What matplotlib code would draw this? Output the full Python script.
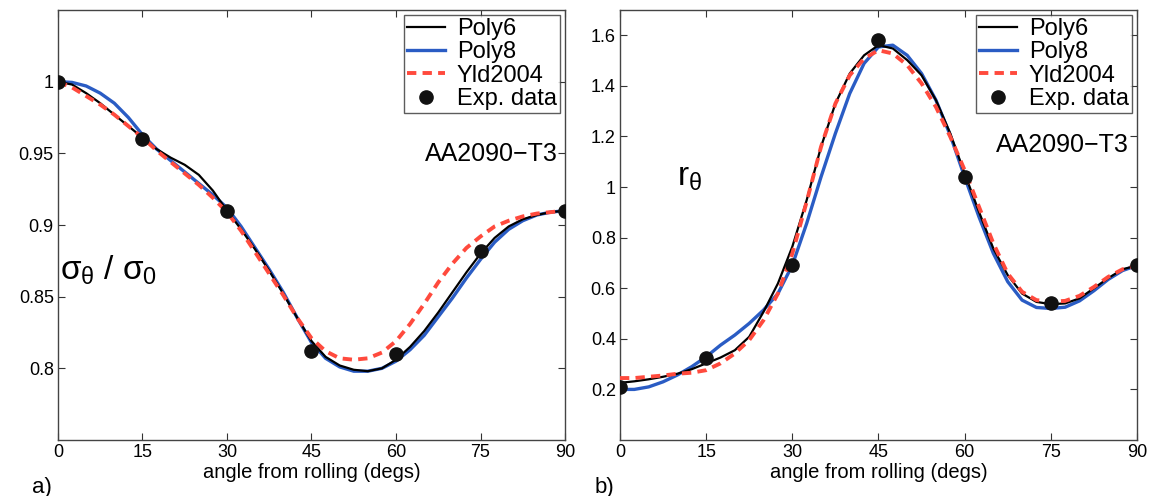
import matplotlib
matplotlib.use('Agg')
import matplotlib.pyplot as plt
import numpy as np

plt.rcParams['font.family'] = ['Liberation Sans', 'DejaVu Sans']
plt.rcParams['mathtext.fontset'] = 'custom'
plt.rcParams['mathtext.rm'] = 'Liberation Sans'
plt.rcParams['mathtext.it'] = 'Liberation Sans'

# experimental points
exp_angle = [0, 15, 30, 45, 60, 75, 90]
exp_sigma = [1.0, 0.960, 0.910, 0.812, 0.810, 0.882, 0.910]
exp_r = [0.21, 0.325, 0.69, 1.58, 1.04, 0.54, 0.69]

# angles, 2.5 deg steps
angles = [0, 2.5, 5, 7.5, 10, 12.5, 15, 17.5, 20, 22.5, 25, 27.5, 30, 32.5, 35, 37.5, 40, 42.5, 45,
          47.5, 50, 52.5, 55, 57.5, 60, 62.5, 65, 67.5, 70, 72.5, 75, 77.5, 80, 82.5, 85, 87.5, 90]

# a) normalized yield stress
sig_poly6 = [1.0, 0.998, 0.992, 0.985, 0.977, 0.969, 0.961, 0.953, 0.947, 0.942, 0.935, 0.924, 0.910,
             0.897, 0.883, 0.868, 0.852, 0.835, 0.819, 0.808, 0.802, 0.799, 0.798, 0.800, 0.806, 0.815,
             0.826, 0.839, 0.853, 0.867, 0.880, 0.891, 0.899, 0.904, 0.907, 0.909, 0.910]
sig_poly8 = [1.0, 0.9995, 0.997, 0.992, 0.985, 0.975, 0.963, 0.953, 0.945, 0.937, 0.929, 0.921, 0.912,
             0.899, 0.884, 0.869, 0.853, 0.835, 0.818, 0.807, 0.801, 0.798, 0.798, 0.800, 0.805, 0.813,
             0.823, 0.836, 0.849, 0.863, 0.876, 0.888, 0.897, 0.903, 0.907, 0.909, 0.910]
sig_yld = [1.0, 0.996, 0.990, 0.984, 0.977, 0.969, 0.961, 0.952, 0.944, 0.936, 0.928, 0.919, 0.909,
           0.896, 0.881, 0.866, 0.851, 0.835, 0.821, 0.812, 0.807, 0.806, 0.807, 0.811, 0.819, 0.831,
           0.845, 0.860, 0.873, 0.884, 0.892, 0.899, 0.903, 0.906, 0.908, 0.909, 0.910]

# b) r-values
r_poly6 = [0.226, 0.232, 0.240, 0.250, 0.262, 0.280, 0.303, 0.326, 0.355, 0.408, 0.507, 0.619, 0.764,
           0.948, 1.159, 1.330, 1.449, 1.521, 1.561, 1.548, 1.502, 1.442, 1.344, 1.212, 1.054, 0.902,
           0.757, 0.652, 0.579, 0.546, 0.537, 0.540, 0.560, 0.600, 0.640, 0.675, 0.690]
r_poly8 = [0.200, 0.200, 0.210, 0.230, 0.257, 0.290, 0.329, 0.375, 0.415, 0.461, 0.514, 0.579, 0.691,
           0.856, 1.040, 1.212, 1.370, 1.489, 1.554, 1.561, 1.521, 1.449, 1.344, 1.205, 1.040, 0.882,
           0.738, 0.626, 0.553, 0.524, 0.520, 0.525, 0.550, 0.590, 0.635, 0.670, 0.690]
r_yld = [0.245, 0.245, 0.250, 0.255, 0.262, 0.266, 0.276, 0.303, 0.342, 0.395, 0.474, 0.579, 0.737,
         0.942, 1.159, 1.330, 1.442, 1.508, 1.541, 1.528, 1.482, 1.410, 1.317, 1.199, 1.067, 0.922,
         0.777, 0.658, 0.586, 0.553, 0.547, 0.550, 0.570, 0.605, 0.645, 0.675, 0.690]

fig = plt.figure(figsize=(11.66, 4.96), dpi=100)
ax1 = fig.add_axes([0.0497, 0.1129, 0.4349, 0.8669])
ax2 = fig.add_axes([0.5317, 0.1129, 0.4434, 0.8669])

def draw(ax, y6, y8, yld, ey):
    ax.plot(angles, y6, color='black', lw=1.6, label='Poly6', zorder=3)
    ax.plot(angles, y8, color='#2a5cc4', lw=2.4, label='Poly8', zorder=2)
    ax.plot(angles, yld, color='#ff4a3d', lw=2.8, ls=(0, (2.4, 1.6)), label='Yld2004', zorder=4)
    ax.plot(exp_angle, ey, 'o', color='#111111', ms=9.5, ls='none', label='Exp. data', zorder=5)
    ax.set_xlim(0, 90)
    ax.set_xticks([0, 15, 30, 45, 60, 75, 90])
    ax.tick_params(direction='in', top=True, right=True, labelsize=13, length=5, colors='#333333',
                   labelcolor='black', pad=3)
    for s in ax.spines.values():
        s.set_color('#444444')
        s.set_linewidth(1.0)
    ax.set_xlabel('angle from rolling (degs)', fontsize=14.5, labelpad=1)
    leg = ax.legend(loc='upper right', fontsize=17, frameon=True, fancybox=False, borderpad=0.15,
                    labelspacing=0.05, handlelength=1.6, handletextpad=0.5, borderaxespad=0.2)
    leg.get_frame().set_edgecolor('#333333')
    leg.get_frame().set_linewidth(1.0)

draw(ax1, sig_poly6, sig_poly8, sig_yld, exp_sigma)
ax1.set_ylim(0.75, 1.05)
ax1.set_yticks([0.8, 0.85, 0.9, 0.95, 1.0])
ax1.set_yticklabels(['0.8', '0.85', '0.9', '0.95', '1'])
ax1.text(0.985, 0.665, 'AA2090\u2212T3', transform=ax1.transAxes, ha='right', va='center', fontsize=18)
ax1.text(0.005, 0.395, r'$\sigma_\theta\ /\ \sigma_0$', transform=ax1.transAxes, ha='left', va='center',
         fontsize=24)

draw(ax2, r_poly6, r_poly8, r_yld, exp_r)
ax2.set_ylim(0, 1.7)
ax2.set_yticks([0.2, 0.4, 0.6, 0.8, 1.0, 1.2, 1.4, 1.6])
ax2.set_yticklabels(['0.2', '0.4', '0.6', '0.8', '1', '1.2', '1.4', '1.6'])
ax2.text(0.985, 0.685, 'AA2090\u2212T3', transform=ax2.transAxes, ha='right', va='center', fontsize=18)
ax2.text(0.11, 0.61, r'$r_\theta$', transform=ax2.transAxes, ha='left', va='center', fontsize=24)

fig.text(42 / 1166, 1 - 487 / 496, 'a)', fontsize=16, ha='center', va='center')
fig.text(604 / 1166, 1 - 487 / 496, 'b)', fontsize=16, ha='center', va='center')

fig.savefig('out.png', dpi=100)
